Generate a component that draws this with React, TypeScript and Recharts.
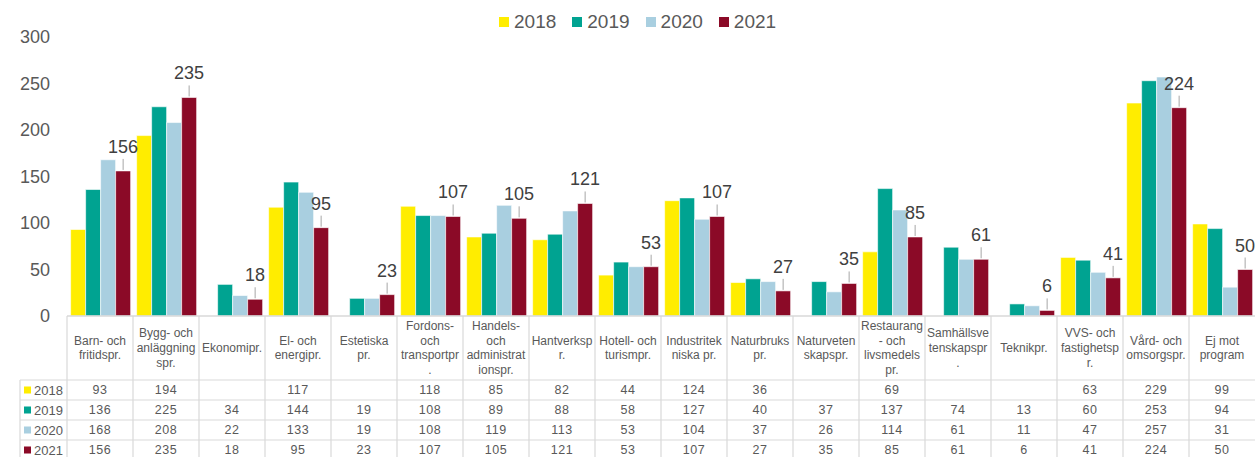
import React from 'react';
import { BarChart, Bar, XAxis, YAxis, Legend, LabelList } from 'recharts';

const categories = [
  'Barn- och\nfritidspr.',
  'Bygg- och\nanläggning\nspr.',
  'Ekonomipr.',
  'El- och\nenergipr.',
  'Estetiska\npr.',
  'Fordons-\noch\ntransportpr\n.',
  'Handels-\noch\nadministrat\nionspr.',
  'Hantverksp\nr.',
  'Hotell- och\nturismpr.',
  'Industritek\nniska pr.',
  'Naturbruks\npr.',
  'Naturveten\nskapspr.',
  'Restaurang\n- och\nlivsmedels\npr.',
  'Samhällsve\ntenskapspr\n.',
  'Teknikpr.',
  'VVS- och\nfastighetsp\nr.',
  'Vård- och\nomsorgspr.',
  'Ej mot\nprogram',
];
const v2018 = [93, 194, null, 117, null, 118, 85, 82, 44, 124, 36, null, 69, null, null, 63, 229, 99];
const v2019 = [136, 225, 34, 144, 19, 108, 89, 88, 58, 127, 40, 37, 137, 74, 13, 60, 253, 94];
const v2020 = [168, 208, 22, 133, 19, 108, 119, 113, 53, 104, 37, 26, 114, 61, 11, 47, 257, 31];
const v2021 = [156, 235, 18, 95, 23, 107, 105, 121, 53, 107, 27, 35, 85, 61, 6, 41, 224, 50];
const seriesNames = ['2018', '2019', '2020', '2021'];
const yTicks = [0, 50, 100, 150, 200, 250, 300];

const seriesValues = [v2018, v2019, v2020, v2021];
const colors = ['#FFED00', '#00A391', '#A9CFE0', '#8B0A27'];

const data = categories.map((c, i) => ({
  name: c,
  s2018: v2018[i],
  s2019: v2019[i],
  s2020: v2020[i],
  s2021: v2021[i],
}));

const W = 1255;
const H = 457;
const PLOT_LEFT = 67;
const TABLE_H = 141;
const BAND = (W - PLOT_LEFT) / categories.length;
const GRID = '#D9D9D9';
const TEXT = '#595959';
const FONT = '"Liberation Sans", Arial, sans-serif';

const TableTick = (props: any) => {
  const { x, y, payload } = props;
  const idx = payload.index;
  const half = BAND / 2;
  const lines = String(payload.value).split('\n');
  const headerH = 64;
  const lh = 14.7;
  const startY = y + headerH / 2 - ((lines.length - 1) * lh) / 2;
  const rowH = 20;
  return (
    <g>
      <line x1={x - half} x2={x - half} y1={y} y2={H} stroke={GRID} strokeWidth={1.2} />
      {lines.map((l, k) => (
        <text key={k} x={x} y={startY + k * lh} textAnchor="middle" dominantBaseline="central" fontSize={12} fill={TEXT} fontFamily={FONT}>
          {l}
        </text>
      ))}
      {seriesValues.map((vals, r) => (
        <g key={r}>
          <line x1={x - half} x2={x + half} y1={y + headerH + r * rowH} y2={y + headerH + r * rowH} stroke={GRID} strokeWidth={1.2} />
          {vals[idx] != null && (
            <text x={x} y={y + headerH + r * rowH + rowH / 2} textAnchor="middle" dominantBaseline="central" fontSize={12.5} letterSpacing={0.6} fill={TEXT} fontFamily={FONT}>
              {vals[idx]}
            </text>
          )}
        </g>
      ))}
      {idx === 0 && (
        <g>
          <line x1={20} x2={20} y1={y + headerH} y2={H} stroke={GRID} strokeWidth={1.2} />
          {seriesNames.map((n, r) => (
            <g key={n}>
              <line x1={20} x2={x - half} y1={y + headerH + r * rowH} y2={y + headerH + r * rowH} stroke={GRID} strokeWidth={1.2} />
              <rect x={24} y={y + headerH + r * rowH + rowH / 2 - 3.5} width={7} height={7} fill={colors[r]} />
              <text x={34} y={y + headerH + r * rowH + rowH / 2} dominantBaseline="central" fontSize={13} fill={TEXT} fontFamily={FONT}>
                {n}
              </text>
            </g>
          ))}
        </g>
      )}
    </g>
  );
};

const RedLabel = (props: any) => {
  const { x, y, width, value } = props;
  if (value == null) return null;
  const cx = x + width / 2;
  return (
    <g>
      <line x1={cx} x2={cx} y1={y - 1} y2={y - 12} stroke="#A6A6A6" strokeWidth={1} />
      <text x={cx} y={y - 24} textAnchor="middle" dominantBaseline="central" fontSize={18} fill="#404040" fontFamily={FONT}>
        {value}
      </text>
    </g>
  );
};

const LegendContent = () => (
  <div style={{ display: 'flex', alignItems: 'center', fontFamily: FONT, fontSize: 19, color: TEXT }}>
    {seriesNames.map((n, i) => (
      <div key={n} style={{ display: 'flex', alignItems: 'center', marginRight: i < seriesNames.length - 1 ? 16 : 0 }}>
        <span style={{ display: 'inline-block', width: 10, height: 10, background: colors[i], marginRight: 5 }} />
        <span>{n}</span>
      </div>
    ))}
  </div>
);

export default function App() {
  return (
    <div style={{ position: 'absolute', left: 0, top: 0, width: W, height: H, background: '#fff', fontFamily: FONT }}>
      <BarChart
        width={W}
        height={H}
        data={data}
        margin={{ top: 37, right: 0, left: 0, bottom: 0 }}
        barCategoryGap="5.5%"
        barGap={0}
      >
        <XAxis
          dataKey="name"
          height={TABLE_H}
          interval={0}
          tickLine={false}
          tickSize={0}
          tickMargin={0}
          axisLine={{ stroke: GRID, strokeWidth: 1.5 }}
          tick={<TableTick />}
        />
        <YAxis
          width={PLOT_LEFT}
          domain={[0, 300]}
          ticks={yTicks}
          axisLine={false}
          tickLine={false}
          tickSize={0}
          tickMargin={17}
          tick={{ fontSize: 18, fill: TEXT, fontFamily: FONT }}
        />
        <Legend
          layout="horizontal"
          verticalAlign="middle"
          align="center"
          wrapperStyle={{ top: 11, left: 499, width: 'auto' }}
          content={<LegendContent />}
        />
        <Bar dataKey="s2018" name="2018" fill={colors[0]} stroke="#fff" strokeWidth={0.6} isAnimationActive={false} />
        <Bar dataKey="s2019" name="2019" fill={colors[1]} stroke="#fff" strokeWidth={0.6} isAnimationActive={false} />
        <Bar dataKey="s2020" name="2020" fill={colors[2]} stroke="#fff" strokeWidth={0.6} isAnimationActive={false} />
        <Bar dataKey="s2021" name="2021" fill={colors[3]} stroke="#fff" strokeWidth={0.6} isAnimationActive={false}>
          <LabelList dataKey="s2021" content={<RedLabel />} />
        </Bar>
      </BarChart>
    </div>
  );
}
